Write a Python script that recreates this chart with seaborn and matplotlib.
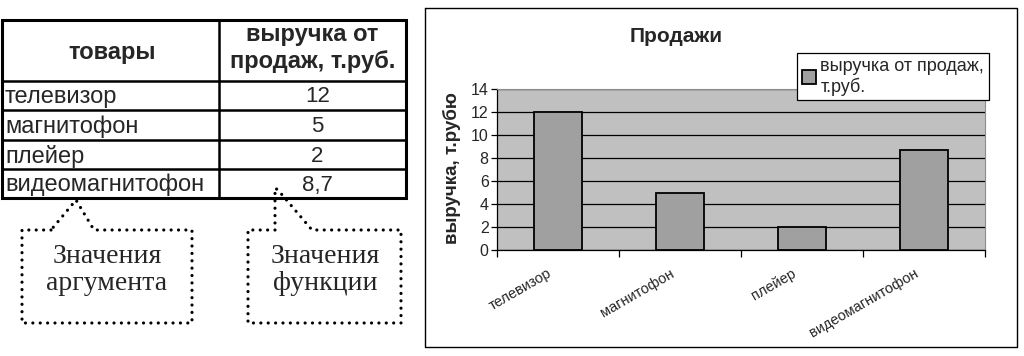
import matplotlib
matplotlib.use("Agg")
import matplotlib.pyplot as plt
import matplotlib.transforms as mtransforms
import seaborn as sns

# data
categories = ["телевизор", "магнитофон", "плейер", "видеомагнитофон"]
values = [12, 5, 2, 8.7]
col_headers = ["товары", "выручка от\nпродаж, т.руб."]
series_label = "выручка от продаж,\nт.руб."
chart_title = "Продажи"
y_label = "выручка, т.рубю"
callout_texts = ["Значения\nаргумента", "Значения\nфункции"]

sns.set_theme(style="white")
plt.rcParams["font.family"] = ["Liberation Sans", "DejaVu Sans"]

W, H = 1024, 356
fig = plt.figure(figsize=(W / 100, H / 100), dpi=100)
fig.patch.set_facecolor("white")

# overlay in pixel coordinates for table, callouts and chart frame
ov = fig.add_axes([0, 0, 1, 1], zorder=0)
ov.set_xlim(0, W)
ov.set_ylim(H, 0)
ov.axis("off")
ov.patch.set_alpha(0)

# --- table ---
tl, tr, tc = 2, 406, 219
row_y = [20, 81, 110, 140, 169, 198]
ov.plot([tl, tr, tr, tl, tl], [row_y[0], row_y[0], row_y[-1], row_y[-1], row_y[0]],
        color="black", lw=2.2, solid_joinstyle="miter")
for y in row_y[1:-1]:
    ov.plot([tl, tr], [y, y], color="black", lw=1.8)
ov.plot([tc, tc], [row_y[0], row_y[-1]], color="black", lw=1.8)

ov.text((tl + tc) / 2 + 2, 52, col_headers[0], ha="center", va="center",
        fontsize=17, fontweight="bold")
ov.text((tc + tr) / 2, 48, col_headers[1], ha="center", va="center",
        fontsize=17, fontweight="bold", linespacing=1.2)
for i, (cat, v) in enumerate(zip(categories, values)):
    yc = (row_y[i + 1] + row_y[i + 2]) / 2 + 1.5
    ov.text(5, yc, cat, ha="left", va="center", fontsize=17)
    ov.text((tc + tr) / 2 + 5, yc, f"{v:g}".replace(".", ","), ha="center",
            va="center", fontsize=16)

# --- dotted callouts ---
dot = dict(color="black", lw=2.3, linestyle=(0, (0.01, 2.3)),
           dash_capstyle="round", solid_capstyle="round")
left_call = ([51, 22, 22, 192, 192, 94, 76, 51], [230, 230, 323, 323, 230, 230, 200, 230])
right_call = ([275, 248, 248, 401, 401, 312, 278, 275, 275],
              [230, 230, 323, 323, 230, 230, 190, 188, 230])
for xs, ys in (left_call, right_call):
    ov.plot(xs, ys, **dot)
ov.text(107, 270, callout_texts[0], ha="center", va="center", fontsize=20,
        family=["Liberation Serif", "DejaVu Serif"], linespacing=1.1)
ov.text(325, 270, callout_texts[1], ha="center", va="center", fontsize=20,
        family=["Liberation Serif", "DejaVu Serif"], linespacing=1.1)

# --- chart frame ---
ov.plot([425, 1017, 1017, 425, 425], [8, 8, 347, 347, 8], color="black", lw=1.0)

# --- bar chart ---
pl, pr, pt, pb = 497, 985, 89, 250
ax = fig.add_axes([pl / W, 1 - pb / H, (pr - pl) / W, (pb - pt) / H], zorder=2)
ax.set_facecolor("#c0c0c0")
sns.barplot(x=categories, y=values, color="#a0a0a0", saturation=1, width=0.4,
            edgecolor="black", linewidth=1.3, ax=ax, zorder=3)
ax.set_ylim(0, 14)
ax.set_xlim(-0.5, len(categories) - 0.5)
ax.set_yticks(range(0, 15, 2))
ax.yaxis.grid(True, color="black", lw=0.9)
ax.set_axisbelow(True)
for s in ("top", "right"):
    ax.spines[s].set_color("#8c8c8c")
    ax.spines[s].set_linewidth(0.8)
for s in ("left", "bottom"):
    ax.spines[s].set_color("black")
    ax.spines[s].set_linewidth(0.9)

ax.tick_params(axis="y", left=True, length=4, width=0.9, labelsize=11.5, pad=2,
               color="black")
ax.set_xticks([i - 0.5 for i in range(len(categories) + 1)], minor=True)
ax.tick_params(axis="x", which="minor", bottom=True, length=5, width=0.9, color="black")
ax.tick_params(axis="x", which="major", length=0, pad=16, labelsize=10.5)
shift = mtransforms.ScaledTranslation(-7 / 100, 0, fig.dpi_scale_trans)
for lab in ax.get_xticklabels():
    lab.set_rotation(30)
    lab.set_ha("right")
    lab.set_rotation_mode("anchor")
    lab.set_va("center")
    lab.set_transform(lab.get_transform() + shift)
ax.set_xlabel("")
ax.set_ylabel(y_label, fontsize=13.5, fontweight="bold")
ax.yaxis.set_label_coords(-0.074, 0.51)

fig.text(676 / W, 1 - 37 / H, chart_title, ha="center", va="center",
         fontsize=15, fontweight="bold")

leg = ax.legend([ax.patches[0]], [series_label], loc="upper left",
                bbox_to_anchor=(797 / W, 1 - 53 / H), bbox_transform=fig.transFigure,
                frameon=True, fancybox=False, fontsize=13, handlelength=0.8,
                handleheight=0.8, handletextpad=0.25, borderpad=0.25,
                borderaxespad=0, labelspacing=0.2)
leg.get_frame().set_edgecolor("black")
leg.get_frame().set_linewidth(0.9)
leg.get_frame().set_facecolor("white")
leg.get_frame().set_alpha(1)

fig.savefig("out.png", dpi=100)
